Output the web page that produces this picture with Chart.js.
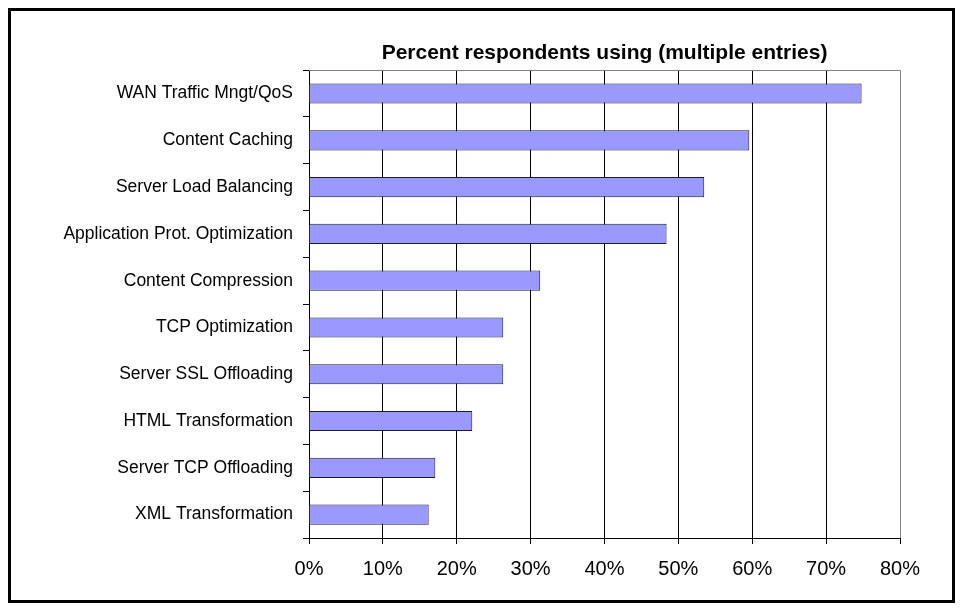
<!DOCTYPE html>
<html>
<head>
<meta charset="utf-8">
<script src="https://cdn.jsdelivr.net/npm/chart.js@4/dist/chart.umd.min.js"></script>
<style>
  html, body { margin: 0; padding: 0; background: #fff; }
  #wrap { width: 963px; height: 611px; }
</style>
</head>
<body>
<div id="wrap"><canvas id="chart" width="963" height="611"></canvas></div>
<script>
// Data
const categories = [
    'WAN Traffic Mngt/QoS',
    'Content Caching',
    'Server Load Balancing',
    'Application Prot. Optimization',
    'Content Compression',
    'TCP Optimization',
    'Server SSL Offloading',
    'HTML Transformation',
    'Server TCP Offloading',
    'XML Transformation'
];
const percentUsing = [74.8, 59.6, 53.5, 48.4, 31.3, 26.3, 26.3, 22.1, 17.1, 16.2];
const xTickValues = [0, 10, 20, 30, 40, 50, 60, 70, 80];
const chartTitle = 'Percent respondents using (multiple entries)';

// outer frame + grey top edge of the plot area
const framePlugin = {
    id: 'frame',
    afterDraw(chart) {
        const { ctx, chartArea } = chart;
        ctx.save();
        ctx.strokeStyle = '#808080';
        ctx.lineWidth = 1;
        ctx.beginPath();
        ctx.moveTo(chartArea.left, Math.round(chartArea.top) + 0.5);
        ctx.lineTo(chartArea.right, Math.round(chartArea.top) + 0.5);
        ctx.stroke();
        ctx.strokeStyle = '#000';
        ctx.lineWidth = 3;
        ctx.strokeRect(9.5, 9.5, chart.width - 19, chart.height - 19);
        ctx.restore();
    }
};

const ctx = document.getElementById('chart').getContext('2d');
new Chart(ctx, {
    type: 'bar',
    data: {
        labels: categories,
        datasets: [{
            label: 'Percent respondents using',
            data: percentUsing,
            backgroundColor: '#9999FF',
            borderColor: '#1a1a33',
            borderWidth: 1,
            barPercentage: 0.43,
            categoryPercentage: 1.0
        }]
    },
    options: {
        indexAxis: 'y',
        responsive: false,
        animation: false,
        devicePixelRatio: 1,
        layout: { padding: { left: 0, right: 63, top: 41, bottom: 0 } },
        plugins: {
            legend: { display: false },
            tooltip: { enabled: false },
            title: {
                display: true,
                text: chartTitle,
                fullSize: false,
                color: '#000',
                font: { family: 'Liberation Sans, Arial, sans-serif', size: 21, weight: 'bold', lineHeight: 1.15 },
                padding: { top: 0, bottom: 5 }
            }
        },
        scales: {
            x: {
                min: 0,
                max: 80,
                afterBuildTicks: axis => { axis.ticks = xTickValues.map(v => ({ value: v })); },
                afterFit: axis => { axis.height = 73; },
                grid: {
                    color: c => (c.index === xTickValues.length - 1 ? '#808080' : '#000'),
                    lineWidth: 1,
                    tickLength: 6,
                    tickColor: '#000'
                },
                border: { color: '#000', width: 1 },
                ticks: {
                    color: '#000',
                    padding: 13,
                    maxRotation: 0,
                    font: { family: 'Liberation Sans, Arial, sans-serif', size: 20 },
                    callback: v => v + '%'
                }
            },
            y: {
                afterFit: axis => { axis.width = 309; },
                grid: {
                    offset: true,
                    drawOnChartArea: false,
                    tickLength: 6,
                    color: '#000'
                },
                border: { color: '#000', width: 1 },
                ticks: {
                    color: '#000',
                    padding: 10,
                    font: { family: 'Liberation Sans, Arial, sans-serif', size: 17.5 }
                }
            }
        }
    },
    plugins: [framePlugin]
});
</script>
</body>
</html>
